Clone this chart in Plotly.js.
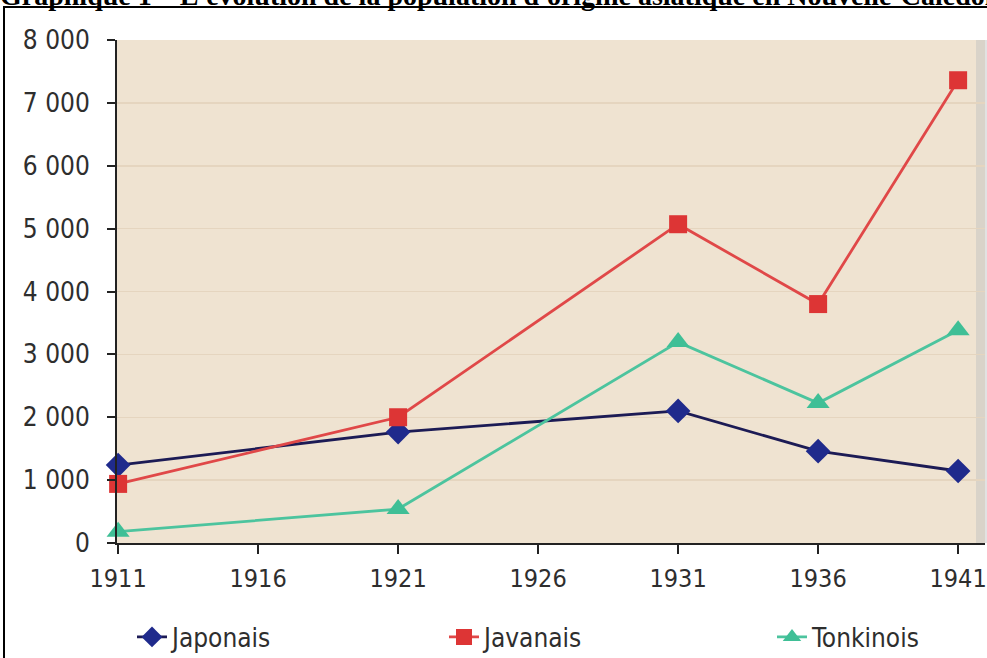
<!DOCTYPE html>
<html>
<head>
<meta charset="utf-8">
<script src="https://cdn.plot.ly/plotly-3.0.1.min.js"></script>
<style>
html,body{margin:0;padding:0;background:#fff;}
#chart{width:987px;height:658px;}
</style>
</head>
<body>
<div id="chart"></div>
<script>
// Data
var years = [1911, 1921, 1931, 1936, 1941];
var japonais = [1240, 1765, 2100, 1460, 1145];
var javanais = [940, 2000, 5070, 3800, 7360];
var tonkinois = [180, 540, 3195, 2225, 3385];
var seriesNames = ["Japonais", "Javanais", "Tonkinois"];
var xTicks = [1911, 1916, 1921, 1926, 1931, 1936, 1941];
var yTicks = [0, 1000, 2000, 3000, 4000, 5000, 6000, 7000, 8000];
var titleText = "Graphique 1 – L'évolution de la population d'origine asiatique en Nouvelle-Calédonie";

var fontFam = '"Liberation Sans Narrow", "DejaVu Sans Condensed", "Roboto Condensed", Roboto, sans-serif';

var W = 987, H = 658;
var mL = 117, mR = 2, mT = 40, mB = 115;
var pw = W - mL - mR, ph = H - mT - mB;
function px2x(p){ return (p - mL) / pw; }
function py2y(p){ return (H - mB - p) / ph; }

function tr(y, name, color, lineColor, symbol, size, leg){
  return {
    x: years, y: y, name: name, type: 'scatter', mode: 'lines+markers',
    line: {color: lineColor, width: 2.8},
    marker: {symbol: symbol, size: size, color: color, line: {width: 0}},
    cliponaxis: false, legend: leg
  };
}

var data = [
  tr(japonais, seriesNames[0], '#1f2a8c', '#1c1b55', 'diamond', 19, 'legend'),
  tr(javanais, seriesNames[1], '#dd3535', '#e04848', 'square', 18, 'legend2'),
  tr(tonkinois, seriesNames[2], '#3fbf96', '#4cc49e', 'triangle-up', 20, 'legend3')
];

function leg(pxX){
  return {
    orientation: 'h',
    x: px2x(pxX), xanchor: 'left',
    y: py2y(637), yanchor: 'middle',
    font: {family: fontFam, size: 26, color: '#2e2e2e'},
    bgcolor: 'rgba(0,0,0,0)'
  };
}

var layout = {
  width: W, height: H,
  margin: {l: mL, r: mR, t: mT, b: mB, pad: 0, autoexpand: false},
  paper_bgcolor: '#ffffff',
  plot_bgcolor: '#efe3d1',
  separators: ', ',
  showlegend: true,
  font: {family: fontFam, color: '#2e2e2e'},
  xaxis: {
    range: [1910.96, 1941.96],
    tickvals: xTicks, ticktext: xTicks.map(String),
    showgrid: false, zeroline: false,
    showline: true, linecolor: '#222', linewidth: 2,
    ticks: 'outside', ticklen: 9, tickwidth: 2, tickcolor: '#222',
    ticklabelstandoff: 3,
    tickfont: {family: fontFam, size: 25, color: '#2e2e2e'}
  },
  yaxis: {
    range: [0, 8000],
    tickvals: yTicks, tickformat: ',d',
    showgrid: true, gridcolor: '#e5d5bf', gridwidth: 1.5,
    zeroline: false,
    showline: true, linecolor: '#222', linewidth: 2,
    ticks: 'outside', ticklen: 8, tickwidth: 2, tickcolor: '#222',
    ticklabelstandoff: 12,
    tickfont: {family: fontFam, size: 26, color: '#2e2e2e'}
  },
  legend: leg(132),
  legend2: leg(444),
  legend3: leg(772),
  shapes: [
    {type: 'rect', xref: 'paper', yref: 'paper',
     x0: px2x(4), x1: px2x(995), y0: py2y(665), y1: py2y(7),
     line: {color: '#000', width: 2}, fillcolor: 'rgba(0,0,0,0)', layer: 'below'},
    {type: 'rect', xref: 'paper', yref: 'paper',
     x0: px2x(976), x1: px2x(987), y0: 0, y1: 1,
     line: {width: 0}, fillcolor: 'rgba(190,190,190,0.45)', layer: 'below'}
  ],
  annotations: [
    {text: '<b>' + titleText + '</b>', xref: 'paper', yref: 'paper',
     x: px2x(-2), xanchor: 'left', y: py2y(13), yanchor: 'bottom',
     showarrow: false, font: {family: '"Liberation Serif", "Times New Roman", serif', size: 28, color: '#000'}}
  ]
};

Plotly.newPlot('chart', data, layout, {staticPlot: true, displayModeBar: false});
</script>
</body>
</html>
